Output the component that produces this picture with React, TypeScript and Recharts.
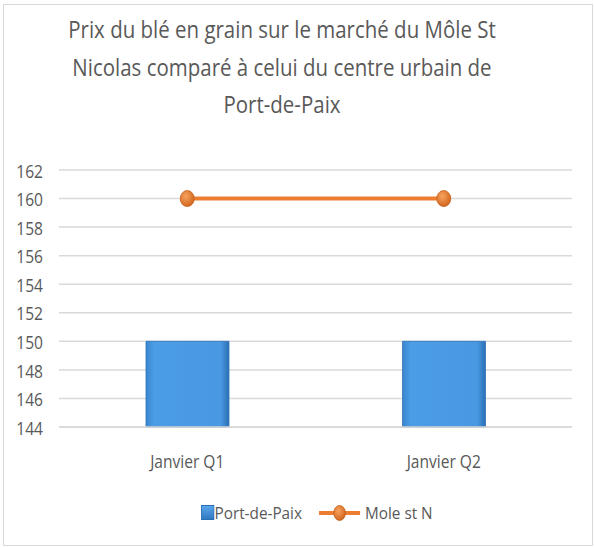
import { ComposedChart, Bar, Line, XAxis, YAxis, CartesianGrid } from 'recharts'

const categories = ['Janvier Q1', 'Janvier Q2']
const portDePaix = [150, 150]
const moleStN = [160, 160]
const yTicks = [144, 146, 148, 150, 152, 154, 156, 158, 160, 162]

const data = categories.map((c, i) => ({
  name: c,
  'Port-de-Paix': portDePaix[i],
  'Mole st N': moleStN[i],
}))

const FONT = '"Open Sans", sans-serif'
const TEXT = '#595959'
const ORANGE = '#ed7d31'

const OrangeDot = (props: any) => {
  const { cx, cy } = props
  if (cx == null || cy == null) return null
  return <ellipse cx={cx} cy={cy} rx={7} ry={8} fill="url(#dotGrad)" stroke="#c85f18" strokeWidth={0.8} />
}

// narrow the tick text a little, the original uses a condensed face
const YTick = (props: any) => {
  const { x, y, payload } = props
  return (
    <text transform={`translate(${x},${y}) scale(0.82,1)`} textAnchor="end" dominantBaseline="central" fill={TEXT} fontSize={19} fontFamily={FONT}>
      {payload.value}
    </text>
  )
}

const XTick = (props: any) => {
  const { x, y, payload } = props
  return (
    <text transform={`translate(${x},${y + 33}) scale(0.82,1)`} textAnchor="middle" dominantBaseline="central" fill={TEXT} fontSize={19} fontFamily={FONT}>
      {payload.value}
    </text>
  )
}

function LegendRow() {
  return (
    <div style={{ position: 'absolute', top: 496, left: 197, display: 'flex', alignItems: 'center', fontFamily: FONT, fontSize: 17, color: TEXT, transform: 'scaleX(0.9)', transformOrigin: 'left center', whiteSpace: 'nowrap' }}>
      <svg width={15} height={15}>
        <defs>
          <linearGradient id="legBar" x1="0" y1="0" x2="0" y2="1">
            <stop offset="0%" stopColor="#5aa8ee" />
            <stop offset="100%" stopColor="#2f78c0" />
          </linearGradient>
        </defs>
        <rect x={0.5} y={0.5} width={14} height={14} fill="url(#legBar)" stroke="#2a6fb5" />
      </svg>
      <span style={{ marginLeft: 0 }}>Port-de-Paix</span>
      <svg width={46} height={22} style={{ marginLeft: 19 }}>
        <defs>
          <radialGradient id="dotGrad2" cx="40%" cy="35%" r="70%">
            <stop offset="0%" stopColor="#f7a35f" />
            <stop offset="100%" stopColor="#d0621a" />
          </radialGradient>
        </defs>
        <line x1={0} y1={11} x2={46} y2={11} stroke={ORANGE} strokeWidth={4} />
        <ellipse cx={23} cy={11} rx={6.5} ry={7.5} fill="url(#dotGrad2)" stroke="#c85f18" strokeWidth={0.8} />
      </svg>
      <span style={{ marginLeft: 5 }}>Mole st N</span>
    </div>
  )
}

export default function App() {
  return (
    <div style={{ position: 'absolute', left: 3, top: 4, width: 590, height: 542, boxSizing: 'border-box', border: '1px solid #d9d9d9', background: '#fff' }}>
      <div style={{ position: 'absolute', top: 6, left: 0, width: 556, textAlign: 'center', fontFamily: FONT, fontSize: 23, lineHeight: '37.5px', color: TEXT, transform: 'scaleX(0.89)', transformOrigin: 'center' }}>
        Prix du blé en grain sur le marché du Môle St<br />
        Nicolas comparé à celui du centre urbain de<br />
        Port-de-Paix
      </div>
      <ComposedChart width={588} height={540} data={data} margin={{ top: 165, right: 20, left: 0, bottom: 88 }} barCategoryGap={87}>
        <defs>
          <linearGradient id="barGrad" x1="0" y1="0" x2="1" y2="0">
            <stop offset="0%" stopColor="#3a86cf" />
            <stop offset="10%" stopColor="#4b9de6" />
            <stop offset="90%" stopColor="#4898e2" />
            <stop offset="100%" stopColor="#2c6fb3" />
          </linearGradient>
          <radialGradient id="dotGrad" cx="40%" cy="35%" r="70%">
            <stop offset="0%" stopColor="#f7a35f" />
            <stop offset="100%" stopColor="#d0621a" />
          </radialGradient>
        </defs>
        <CartesianGrid vertical={false} stroke="#d9d9d9" strokeWidth={1.5} />
        <XAxis
          dataKey="name"
          axisLine={{ stroke: '#d9d9d9', strokeWidth: 1.5 }}
          tickLine={false}
          tickSize={0}
          tickMargin={0}
          tick={<XTick />}
        />
        <YAxis
          domain={[144, 162]}
          ticks={yTicks}
          interval={0}
          axisLine={false}
          tickLine={false}
          tickSize={0}
          tickMargin={16}
          width={55}
          tick={<YTick />}
        />
        <Bar dataKey="Port-de-Paix" barSize={83} fill="url(#barGrad)" stroke="#2f74b8" strokeWidth={0.8} isAnimationActive={false} />
        <Line
          dataKey="Mole st N"
          stroke={ORANGE}
          strokeWidth={4}
          dot={<OrangeDot />}
          activeDot={false}
          isAnimationActive={false}
        />
      </ComposedChart>
      <LegendRow />
    </div>
  )
}
